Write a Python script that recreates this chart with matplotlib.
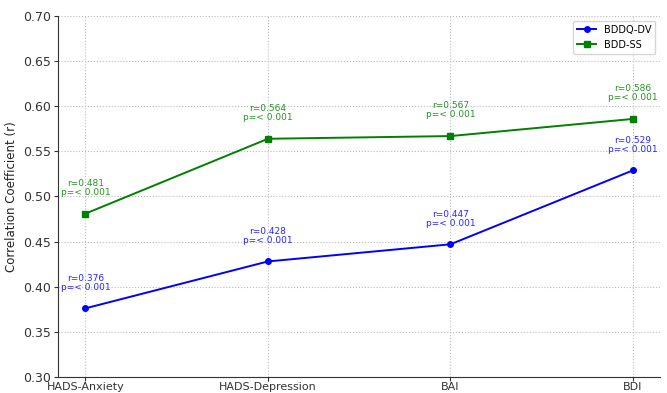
import matplotlib
matplotlib.use("Agg")
import matplotlib.pyplot as plt

categories = ['HADS-Anxiety', 'HADS-Depression', 'BAI', 'BDI']
bddq_dv = [0.376, 0.428, 0.447, 0.529]
bdd_ss = [0.481, 0.564, 0.567, 0.586]
p_labels = ['< 0.001', '< 0.001', '< 0.001', '< 0.001']

fig = plt.figure(figsize=(6.67, 3.93), dpi=100)
ax = fig.add_axes([0.087, 0.041, 0.903, 0.918])

x = list(range(len(categories)))
ax.plot(x, bddq_dv, 'o-', color='blue', label='BDDQ-DV', linewidth=1.4, markersize=4)
ax.plot(x, bdd_ss, 's-', color='green', label='BDD-SS', linewidth=1.4, markersize=4)

for xi, r, p in zip(x, bddq_dv, p_labels):
    ax.annotate('r=%.3f\np=%s' % (r, p), (xi, r), xytext=(0, 12), textcoords='offset points',
                ha='center', va='bottom', fontsize=6.5, color='blue', alpha=0.85, linespacing=1.0)
for xi, r, p in zip(x, bdd_ss, p_labels):
    ax.annotate('r=%.3f\np=%s' % (r, p), (xi, r), xytext=(0, 12), textcoords='offset points',
                ha='center', va='bottom', fontsize=6.5, color='green', alpha=0.85, linespacing=1.0)

ax.set_xticks(x)
ax.set_xticklabels(categories)
ax.set_ylim(0.30, 0.70)
ax.set_ylabel('Correlation Coefficient (r)', fontsize=8.5, color='#222222', labelpad=4)
ax.tick_params(axis='x', labelsize=8, length=3, pad=0.5, colors='#333333')
ax.tick_params(axis='y', labelsize=9, length=3, pad=2, colors='#333333')
ax.grid(True, linestyle=':', color='#bbbbbb', linewidth=0.8)
ax.spines['top'].set_visible(False)
ax.spines['right'].set_visible(False)
ax.spines['left'].set_color('#333333')
ax.spines['bottom'].set_color('#333333')
ax.legend(loc='upper right', fontsize=7)

plt.savefig('out.png')
